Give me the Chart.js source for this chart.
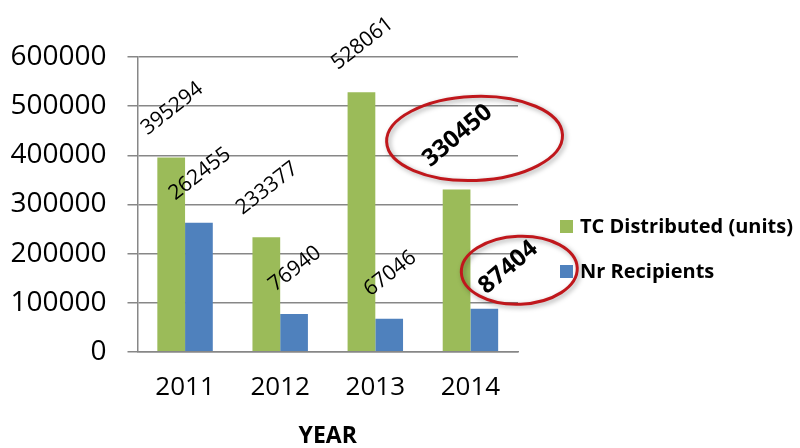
<!DOCTYPE html>
<html>
<head>
<meta charset="utf-8">
<script src="https://cdn.jsdelivr.net/npm/chart.js@4.4.0/dist/chart.umd.min.js"></script>
<style>
  html, body { margin: 0; padding: 0; background: #fff; }
</style>
</head>
<body>
<canvas id="chart" width="800" height="448"></canvas>
<script>
const years = ['2011', '2012', '2013', '2014'];
const tcDistributed = [395294, 233377, 528061, 330450];
const nrRecipients = [262455, 76940, 67046, 87404];
const yTicks = [0, 100000, 200000, 300000, 400000, 500000, 600000];

const seriesNames = ['TC Distributed (units)', 'Nr Recipients'];
const seriesColors = ['#9BBB59', '#4F81BD'];

// the two 2014 values that are circled in red
const circled = [
    { dataset: 0, index: 3, shiftX: 0, shiftY: 0, dx: 18, dy: 4, rx: 88, ry: 42 },
    { dataset: 1, index: 3, shiftX: 23, shiftY: 8, dx: 12, dy: 4, rx: 58, ry: 34 }
];

const FONT = '"Open Sans", "DejaVu Sans", sans-serif';

// Rotated value labels above each bar
const valueLabels = {
    id: 'valueLabels',
    afterDatasetsDraw(chart) {
        const ctx = chart.ctx;
        chart.data.datasets.forEach((ds, di) => {
            chart.getDatasetMeta(di).data.forEach((bar, i) => {
                const mark = circled.find(c => c.dataset === di && c.index === i);
                const size = mark ? 24 : 21;
                const angle = (mark ? -40 : -38) * Math.PI / 180;
                const text = String(ds.data[i]);
                ctx.save();
                ctx.font = (mark ? 'bold ' : '') + size + 'px ' + FONT;
                const w = ctx.measureText(text).width;
                const h = size * 0.714;
                const halfH = (w * Math.sin(-angle) + h * Math.cos(angle)) / 2;
                let cx = bar.x;
                let cy = bar.y - 22 - halfH;
                if (mark) {
                    cx += mark.shiftX;
                    cy += mark.shiftY;
                }
                ctx.translate(cx, cy);
                ctx.rotate(angle);
                ctx.textAlign = 'center';
                ctx.textBaseline = 'alphabetic';
                ctx.fillStyle = '#000';
                ctx.fillText(text, 0, h / 2);
                ctx.restore();

                if (mark) {
                    ctx.save();
                    ctx.shadowColor = 'rgba(0,0,0,0.35)';
                    ctx.shadowBlur = 5;
                    ctx.shadowOffsetX = 2;
                    ctx.shadowOffsetY = 2;
                    ctx.strokeStyle = '#C0171C';
                    ctx.lineWidth = 3;
                    ctx.beginPath();
                    ctx.ellipse(cx + mark.dx, cy + mark.dy, mark.rx, mark.ry, -0.04, 0, Math.PI * 2);
                    ctx.stroke();
                    ctx.restore();
                }
            });
        });
    }
};

// Legend on the right, drawn next to the plot area
const sideLegend = {
    id: 'sideLegend',
    afterDraw(chart) {
        const ctx = chart.ctx;
        const x = chart.chartArea.right + 42;
        let y = chart.chartArea.top + 169.5;
        ctx.save();
        ctx.font = 'bold 20px ' + FONT;
        ctx.textBaseline = 'middle';
        chart.data.datasets.forEach(ds => {
            ctx.fillStyle = ds.backgroundColor;
            ctx.fillRect(x, y - 6.5, 13, 13);
            ctx.fillStyle = '#000';
            ctx.fillText(ds.label, x + 20, y + 1);
            y += 45;
        });
        ctx.restore();
    }
};

new Chart(document.getElementById('chart'), {
    type: 'bar',
    data: {
        labels: years,
        datasets: [
            { label: seriesNames[0], data: tcDistributed, backgroundColor: seriesColors[0] },
            { label: seriesNames[1], data: nrRecipients, backgroundColor: seriesColors[1] }
        ]
    },
    options: {
        responsive: false,
        animation: false,
        layout: { padding: { left: 0, right: 282, top: 57, bottom: 0 } },
        datasets: { bar: { categoryPercentage: 0.583, barPercentage: 1 } },
        plugins: {
            legend: { display: false },
            tooltip: { enabled: false }
        },
        scales: {
            x: {
                grid: { display: false, drawTicks: false },
                border: { display: true, color: '#878787', width: 1.5 },
                ticks: { color: '#000', font: { family: FONT, size: 26 }, padding: 20 },
                title: {
                    display: true,
                    text: 'YEAR',
                    color: '#000',
                    font: { family: FONT, size: 23, weight: 'bold', lineHeight: 1 },
                    padding: { top: 2, bottom: 0 }
                }
            },
            y: {
                min: 0,
                max: 600000,
                afterBuildTicks: scale => {
                    scale.ticks = yTicks.map(v => ({ value: v }));
                },
                afterFit: scale => {
                    scale.width = 137.5;
                },
                grid: { color: '#878787', lineWidth: 1.5, tickLength: 10 },
                border: { display: true, color: '#878787', width: 1.5 },
                ticks: {
                    color: '#000',
                    font: { family: FONT, size: 28 },
                    padding: 21,
                    callback: value => String(value)
                }
            }
        }
    },
    plugins: [valueLabels, sideLegend]
});
</script>
</body>
</html>
